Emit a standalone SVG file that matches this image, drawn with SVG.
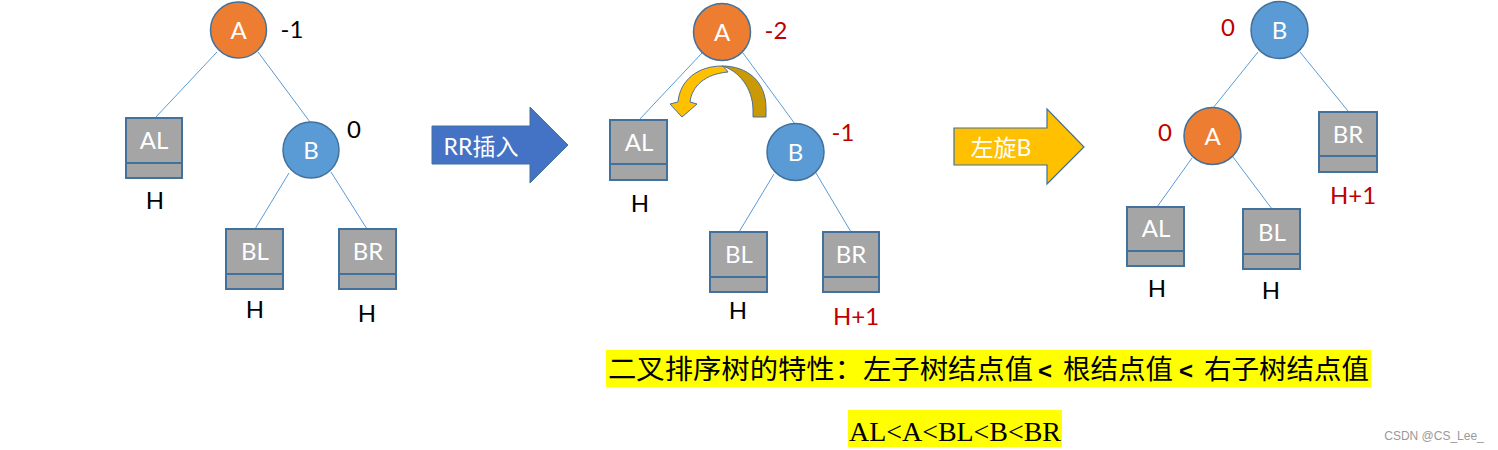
<svg xmlns="http://www.w3.org/2000/svg" width="1498" height="450" viewBox="0 0 1498 450">
<style>
.bg{fill:#ffffff}
.edge{stroke:#5B9BD5;stroke-width:1;fill:none}
.na{fill:#ED7D31;stroke:#41719C;stroke-width:1.5}
.nb{fill:#5B9BD5;stroke:#41719C;stroke-width:1.5}
.box{fill:#A5A5A5;stroke:#41719C;stroke-width:2}
.div{stroke:#41719C;stroke-width:2}
.nt{font-family:Lato,"Open Sans","Liberation Sans",sans-serif;font-size:24px;fill:#ffffff;text-anchor:middle}
.lb{font-family:Lato,"Open Sans","Liberation Sans",sans-serif;font-size:24px;fill:#000000;text-anchor:middle}
.red{fill:#C00000}
.cjk{font-family:"Noto Sans CJK SC",sans-serif;font-size:27px;fill:#000000}
.hl{fill:#FFFF00}
</style>
<rect class="bg" x="0" y="0" width="1498" height="450"/>

<g id="connectors">
  <line class="edge" x1="217" y1="52" x2="155" y2="118"/>
  <line class="edge" x1="258" y1="52" x2="310" y2="122"/>
  <line class="edge" x1="289" y1="173" x2="255" y2="229"/>
  <line class="edge" x1="331" y1="172" x2="367" y2="229"/>

  <line class="edge" x1="702" y1="53" x2="639" y2="120"/>
  <line class="edge" x1="743" y1="53" x2="795" y2="124"/>
  <line class="edge" x1="774" y1="174" x2="739" y2="232"/>
  <line class="edge" x1="816" y1="173" x2="851" y2="232"/>

  <line class="edge" x1="1258" y1="52" x2="1213" y2="108"/>
  <line class="edge" x1="1300" y1="52" x2="1348" y2="111"/>
  <line class="edge" x1="1192" y1="158" x2="1157" y2="207"/>
  <line class="edge" x1="1233" y1="157" x2="1272" y2="209"/>
</g>

<!-- Tree 1 -->
<g id="t1-A"><circle class="na" cx="238.5" cy="30" r="28"/><text class="nt" x="238.5" y="38.5">A</text></g>
<g id="t1-A-bf"><text class="lb" x="292" y="38">-1</text></g>
<g id="t1-B"><circle class="nb" cx="311" cy="150" r="28"/><text class="nt" x="311" y="158.5">B</text></g>
<g id="t1-B-bf"><text class="lb" x="354" y="138">0</text></g>
<g id="t1-AL"><rect class="box" x="126" y="118" width="56" height="60"/><line class="div" x1="126" y1="163" x2="182" y2="163"/><text class="nt" x="154" y="149">AL</text><text class="lb" x="155" y="209">H</text></g>
<g id="t1-BL"><rect class="box" x="226" y="229" width="57" height="60"/><line class="div" x1="226" y1="274" x2="283" y2="274"/><text class="nt" x="255" y="260">BL</text><text class="lb" x="255" y="318">H</text></g>
<g id="t1-BR"><rect class="box" x="339" y="229" width="57" height="60"/><line class="div" x1="339" y1="274" x2="396" y2="274"/><text class="nt" x="368" y="260">BR</text><text class="lb" x="367" y="322">H</text></g>

<!-- Arrow RR -->
<g id="arrow-rr">
  <path d="M432,126 L530,126 L530,107 L568,145 L530,183 L530,164 L432,164 Z" fill="#4472C4" stroke="#41719C" stroke-width="1"/>
  <text x="481" y="155" font-family="Lato,'Noto Sans CJK SC',sans-serif" font-size="23" fill="#ffffff" text-anchor="middle">RR插入</text>
</g>

<!-- Tree 2 -->
<g id="t2-A"><circle class="na" cx="722" cy="32" r="28.5"/><text class="nt" x="722" y="40.5">A</text></g>
<g id="t2-A-bf"><text class="lb red" x="776" y="39">-2</text></g>
<g id="t2-B"><circle class="nb" cx="795.5" cy="152" r="28.5"/><text class="nt" x="795.5" y="160.5">B</text></g>
<g id="t2-B-bf"><text class="lb red" x="843" y="141">-1</text></g>
<g id="t2-AL"><rect class="box" x="610" y="120" width="57" height="60"/><line class="div" x1="610" y1="164" x2="667" y2="164"/><text class="nt" x="639" y="151">AL</text><text class="lb" x="640" y="212">H</text></g>
<g id="t2-BL"><rect class="box" x="710" y="232" width="57" height="60"/><line class="div" x1="710" y1="277" x2="767" y2="277"/><text class="nt" x="739" y="263">BL</text><text class="lb" x="738" y="319">H</text></g>
<g id="t2-BR"><rect class="box" x="823" y="232" width="56" height="60"/><line class="div" x1="823" y1="277" x2="879" y2="277"/><text class="nt" x="851" y="263">BR</text><text class="lb red" x="856" y="325">H+1</text></g>

<!-- Curved rotation arrow -->
<g id="rotate-arrow">
  <path d="M766,117 L766,108 C766,82 748,66 722,66 C738,70 753,88 753,110 L753,117 Z" fill="#C99A06" stroke="#4F6E96" stroke-width="1"/>
  <path d="M722,66 C698,66 680,80 678,102 L670,104 L682,117 L697,104 L690,102 C692,86 705,74 728,72 C726,69 724,67 722,66 Z" fill="#FFC000" stroke="#4F6E96" stroke-width="1"/>
</g>

<!-- Arrow left rotate -->
<g id="arrow-rot">
  <path d="M954,128 L1047,128 L1047,109 L1084,147 L1047,184 L1047,165 L954,165 Z" fill="#FFC000" stroke="#41719C" stroke-width="1.2"/>
  <text x="1001" y="156" font-family="Lato,'Noto Sans CJK SC',sans-serif" font-size="23" fill="#ffffff" text-anchor="middle">左旋B</text>
</g>

<!-- Tree 3 -->
<g id="t3-B"><circle class="nb" cx="1279.5" cy="30" r="28.5"/><text class="nt" x="1279.5" y="38.5">B</text></g>
<g id="t3-B-bf"><text class="lb red" x="1228" y="36">0</text></g>
<g id="t3-A"><circle class="na" cx="1212.5" cy="136" r="28.5"/><text class="nt" x="1212.5" y="144.5">A</text></g>
<g id="t3-A-bf"><text class="lb red" x="1165" y="141">0</text></g>
<g id="t3-BR"><rect class="box" x="1319" y="112" width="58" height="60"/><line class="div" x1="1319" y1="156" x2="1377" y2="156"/><text class="nt" x="1348" y="143">BR</text><text class="lb red" x="1353" y="204">H+1</text></g>
<g id="t3-AL"><rect class="box" x="1127" y="207" width="57" height="59"/><line class="div" x1="1127" y1="251" x2="1184" y2="251"/><text class="nt" x="1156" y="237">AL</text><text class="lb" x="1157" y="297">H</text></g>
<g id="t3-BL"><rect class="box" x="1243" y="209" width="57" height="60"/><line class="div" x1="1243" y1="254" x2="1300" y2="254"/><text class="nt" x="1272" y="241">BL</text><text class="lb" x="1271" y="299">H</text></g>

<!-- Bottom notes -->
<g id="note1">
  <rect class="hl" x="606" y="350" width="765" height="37"/>
  <text class="cjk" x="608" y="379" textLength="425" lengthAdjust="spacingAndGlyphs">二叉排序树的特性：左子树结点值</text>
  <text x="1045" y="379" font-family="'Liberation Sans',sans-serif" font-size="24" font-weight="bold" text-anchor="middle">&lt;</text>
  <text class="cjk" x="1063" y="379" textLength="110" lengthAdjust="spacingAndGlyphs">根结点值</text>
  <text x="1186" y="379" font-family="'Liberation Sans',sans-serif" font-size="24" font-weight="bold" text-anchor="middle">&lt;</text>
  <text class="cjk" x="1204" y="379" textLength="165" lengthAdjust="spacingAndGlyphs">右子树结点值</text>
</g>
<g id="note2">
  <rect class="hl" x="848" y="410" width="214" height="37"/>
  <text x="849" y="441" font-family="'Liberation Serif',serif" font-size="28" fill="#000000" textLength="212" lengthAdjust="spacingAndGlyphs">AL&lt;A&lt;BL&lt;B&lt;BR</text>
</g>
<text x="1434" y="440" font-family="'Liberation Sans',sans-serif" font-size="12" fill="#999999" text-anchor="middle">CSDN @CS_Lee_</text>
</svg>
